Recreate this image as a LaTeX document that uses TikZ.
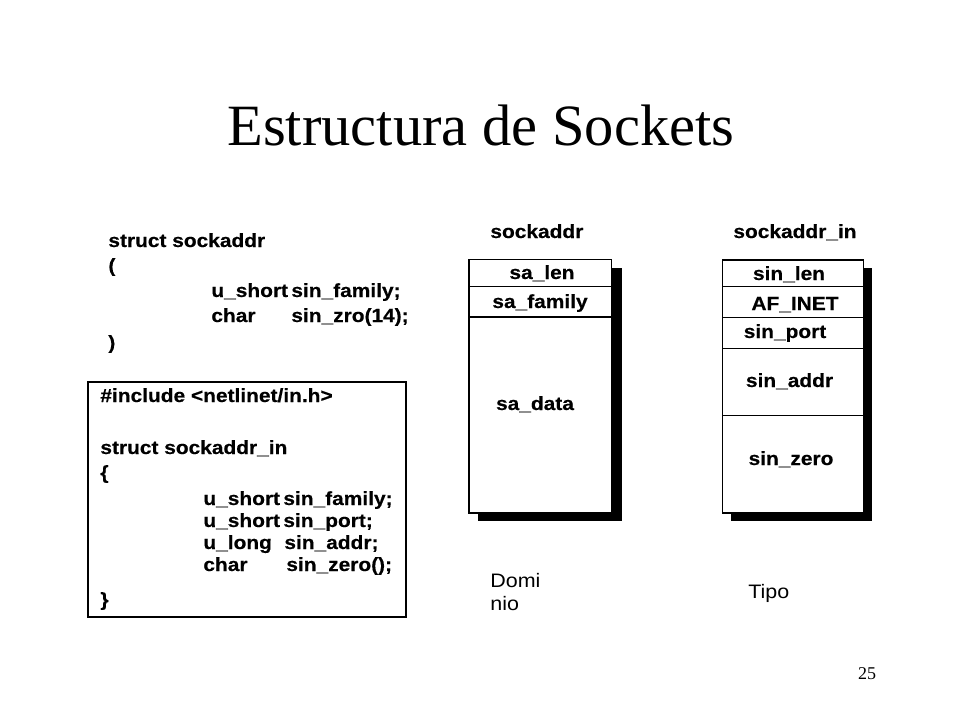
\documentclass[tikz,border=0pt]{standalone}
\usepackage{fontspec}
\setmainfont{Liberation Serif}
\newfontfamily\codefont{Liberation Sans}[FakeStretch=1.1,FakeBold=0.35]
\newfontfamily\notefont{Liberation Sans}[FakeStretch=1.1]
\usepackage{tikz}

\begin{document}
\begin{tikzpicture}[x=1pt,y=-1pt,thick]
		\tikzstyle{code}=[anchor=base west,inner sep=0pt,font=\codefont\bfseries\fontsize{19}{22}\selectfont]
		\tikzstyle{field}=[anchor=base,inner sep=0pt,font=\codefont\bfseries\fontsize{19}{22}\selectfont]
		\tikzstyle{note}=[anchor=base west,inner sep=0pt,font=\notefont\fontsize{19.5}{22}\selectfont]
		\tikzstyle{frame}=[draw=black,line width=1.6pt,fill=white]
		\tikzstyle{shadow}=[fill=black]
		
		\useasboundingbox[fill=white] (0,0) rectangle (960,720);
		
		\node[anchor=base west,inner sep=0pt,font=\fontsize{58.5}{60}\selectfont] (title) at (227,145) {Estructura de Sockets};
		\node[anchor=base,inner sep=0pt,font=\fontsize{18}{20}\selectfont] (page) at (867,679) {25};
		
		% struct sockaddr
		\node[code] (sa_head) at (108,247) {struct sockaddr};
		\node[code] (sa_open) at (108,272) {(};
		\node[code] (sa_fam) at (211,297) {\makebox[80pt][l]{u\_short}sin\_family;};
		\node[code] (sa_zro) at (211,322) {\makebox[80pt][l]{char}sin\_zro(14);};
		\node[code] (sa_close) at (108,349) {)};
		
		% struct sockaddr_in
		\draw[line width=1.4pt] (88,382) rectangle (406,617);
		\node[code] (in_incl) at (100,402) {\#include <netlinet/in.h>};
		\node[code] (in_head) at (100,454) {struct sockaddr\_in};
		\node[code] (in_open) at (100,479) {\{};
		\node[code] (in_fam) at (203,505) {\makebox[80pt][l]{u\_short}sin\_family;};
		\node[code] (in_port) at (203,527) {\makebox[80pt][l]{u\_short}sin\_port;};
		\node[code] (in_addr) at (203,549) {\makebox[81pt][l]{u\_long}sin\_addr;};
		\node[code] (in_zero) at (203,571) {\makebox[83pt][l]{char}sin\_zero();};
		\node[code] (in_close) at (100,606) {\}};
		
		% sockaddr table
		\node[code] (sa_name) at (490,238) {sockaddr};
		\fill[shadow] (478,268) rectangle (622,521);
		\draw[frame] (469,259.5) rectangle (611.5,513);
		\draw[line width=0.8pt] (469,286) -- (611.5,286);
		\draw[line width=1.6pt] (469,317) -- (611.5,317);
		\node[field] (sa_len) at (542,279) {sa\_len};
		\node[field] (sa_family) at (540,308) {sa\_family};
		\node[field] (sa_data) at (535,410) {sa\_data};
		\node[note] (dom1) at (490,587) {Domi};
		\node[note] (dom2) at (490,610) {nio};
		
		% sockaddr_in table
		\node[code] (in_name) at (733,238) {sockaddr\_in};
		\fill[shadow] (731,268) rectangle (872,521);
		\draw[frame] (722.5,260) rectangle (863.5,513);
		\draw[line width=0.8pt] (722.5,286) -- (863.5,286);
		\draw[line width=1.6pt] (722.5,317.5) -- (863.5,317.5);
		\draw[line width=0.8pt] (722.5,348) -- (863.5,348);
		\draw[line width=0.8pt] (722.5,415) -- (863.5,415);
		\node[field] (sin_len) at (789,280) {sin\_len};
		\node[field] (af_inet) at (795,310) {AF\_INET};
		\node[field] (sin_port) at (785,338) {sin\_port};
		\node[field] (sin_addr) at (789.5,387) {sin\_addr};
		\node[field] (sin_zero) at (791,465) {sin\_zero};
		\node[note] (tipo) at (748,598) {Tipo};
	
	\end{tikzpicture}
\end{document}
